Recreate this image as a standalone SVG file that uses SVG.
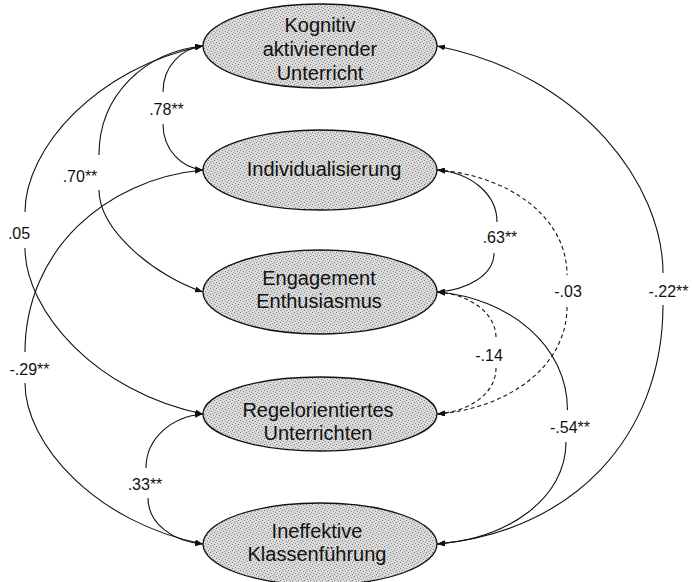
<svg xmlns="http://www.w3.org/2000/svg" width="692" height="582" viewBox="0 0 692 582">
<style>
.node ellipse{fill:url(#stip);stroke:#111;stroke-width:1.3}
.node text{font-family:"Liberation Sans",Arial,sans-serif;font-size:20px;fill:#111;text-anchor:middle}
.conn path{fill:none;stroke:#111;stroke-width:1.1}
.conn path.dash{stroke-dasharray:4 3}
.conn path.s{marker-start:url(#arr)}
.conn path.e{marker-end:url(#arr)}
.lbl{font-family:"Liberation Sans",Arial,sans-serif;font-size:16px;fill:#111;text-anchor:middle}
</style>
<defs>
<pattern id="stip" width="6" height="6" patternUnits="userSpaceOnUse">
<rect width="6" height="6" fill="#dadada"/>
<rect x="0" y="0" width="1" height="1" fill="#7a7a7a"/>
<rect x="3" y="1" width="1" height="1" fill="#8a8a8a"/>
<rect x="1" y="3" width="1" height="1" fill="#909090"/>
<rect x="4" y="4" width="1" height="1" fill="#7f7f7f"/>
<rect x="5" y="2" width="1" height="1" fill="#a0a0a0"/>
<rect x="2" y="5" width="1" height="1" fill="#a5a5a5"/>
</pattern>
<marker id="arr" viewBox="0 0 8 6" refX="8" refY="3" markerWidth="8" markerHeight="6" markerUnits="userSpaceOnUse" orient="auto-start-reverse">
<path d="M0,0 L8,3 L0,6 z" fill="#111"/>
</marker>
</defs>
<rect width="692" height="582" fill="#fff"/>

<g id="connectors" class="conn">
<!-- .78 -->
<path class="s" d="M203,46 C180.9,48.3 163,66.6 163,92"/>
<path class="e" d="M163,124 C163,149.4 180.9,167.7 203,170"/>
<!-- .70 -->
<path class="s" d="M203,46 C145.6,51.5 99,94.8 99,155"/>
<path class="e" d="M99,190 C99,230.8 156.2,276.7 203,292"/>
<!-- .05 -->
<path class="s" d="M203,46 C96.2,67.6 25,149 25,212"/>
<path class="e" d="M25,248 C25,311 96.2,392.4 203,414"/>
<!-- -.29 -->
<path class="s" d="M203,170 C104.7,179.1 25,251.5 25,352"/>
<path class="e" d="M25,383 C25,444.2 96.2,523.1 203,544"/>
<!-- .33 -->
<path class="s" d="M203,414 C171.5,416.7 146,438.2 146,468"/>
<path class="e" d="M148,498 C148,523.4 172.6,541.7 203,544"/>
<!-- .63 -->
<path class="s" d="M437,170 C470.1,172.6 497,193.3 497,222"/>
<path class="e" d="M494,253 C494,274.5 468.5,290 437,292"/>
<!-- -.03 -->
<path class="s dash" d="M437,170 C508.8,175.3 567,217 567,275"/>
<path class="e dash" d="M567,307 C567,366 508.8,408.6 437,414"/>
<!-- -.14 -->
<path class="s dash" d="M437,292 C469.6,294.3 496,312.6 496,338"/>
<path class="e dash" d="M496,368 C496,393.4 469.6,411.7 437,414"/>
<!-- -.54 -->
<path class="s" d="M437,292 C508.8,297.9 567.5,344.9 567.5,410"/>
<path class="e" d="M566,442 C566,498.3 508.2,538.9 437,544"/>
<!-- -.22 -->
<path class="s" d="M437,46 C583.9,75.5 663,186.7 663,273"/>
<path class="e" d="M663,305 C663,436.5 572.6,532 437,544"/>
</g>

<g id="labels">
<text class="lbl" x="166.5" y="115">.78**</text>
<text class="lbl" x="80" y="182">.70**</text>
<text class="lbl" x="19" y="239">.05</text>
<text class="lbl" x="29.5" y="374.5">-.29**</text>
<text class="lbl" x="145" y="490">.33**</text>
<text class="lbl" x="500" y="243">.63**</text>
<text class="lbl" x="568" y="297">-.03</text>
<text class="lbl" x="489" y="361">-.14</text>
<text class="lbl" x="570" y="433">-.54**</text>
<text class="lbl" x="668.5" y="297">-.22**</text>
</g>

<g id="node-kognitiv" class="node">
<ellipse cx="320" cy="46" rx="117" ry="42"/>
<text x="320" y="32">Kognitiv</text>
<text x="320" y="56">aktivierender</text>
<text x="320" y="80">Unterricht</text>
</g>
<g id="node-individualisierung" class="node">
<ellipse cx="320" cy="170" rx="117" ry="40"/>
<text x="324" y="176">Individualisierung</text>
</g>
<g id="node-engagement" class="node">
<ellipse cx="320" cy="292" rx="117" ry="42"/>
<text x="319" y="285">Engagement</text>
<text x="319" y="308">Enthusiasmus</text>
</g>
<g id="node-regelorientiert" class="node">
<ellipse cx="320" cy="414" rx="117" ry="37"/>
<text x="318" y="417">Regelorientiertes</text>
<text x="318" y="440">Unterrichten</text>
</g>
<g id="node-ineffektiv" class="node">
<ellipse cx="320" cy="544" rx="117" ry="41"/>
<text x="317" y="538">Ineffektive</text>
<text x="317" y="561">Klassenführung</text>
</g>
</svg>
